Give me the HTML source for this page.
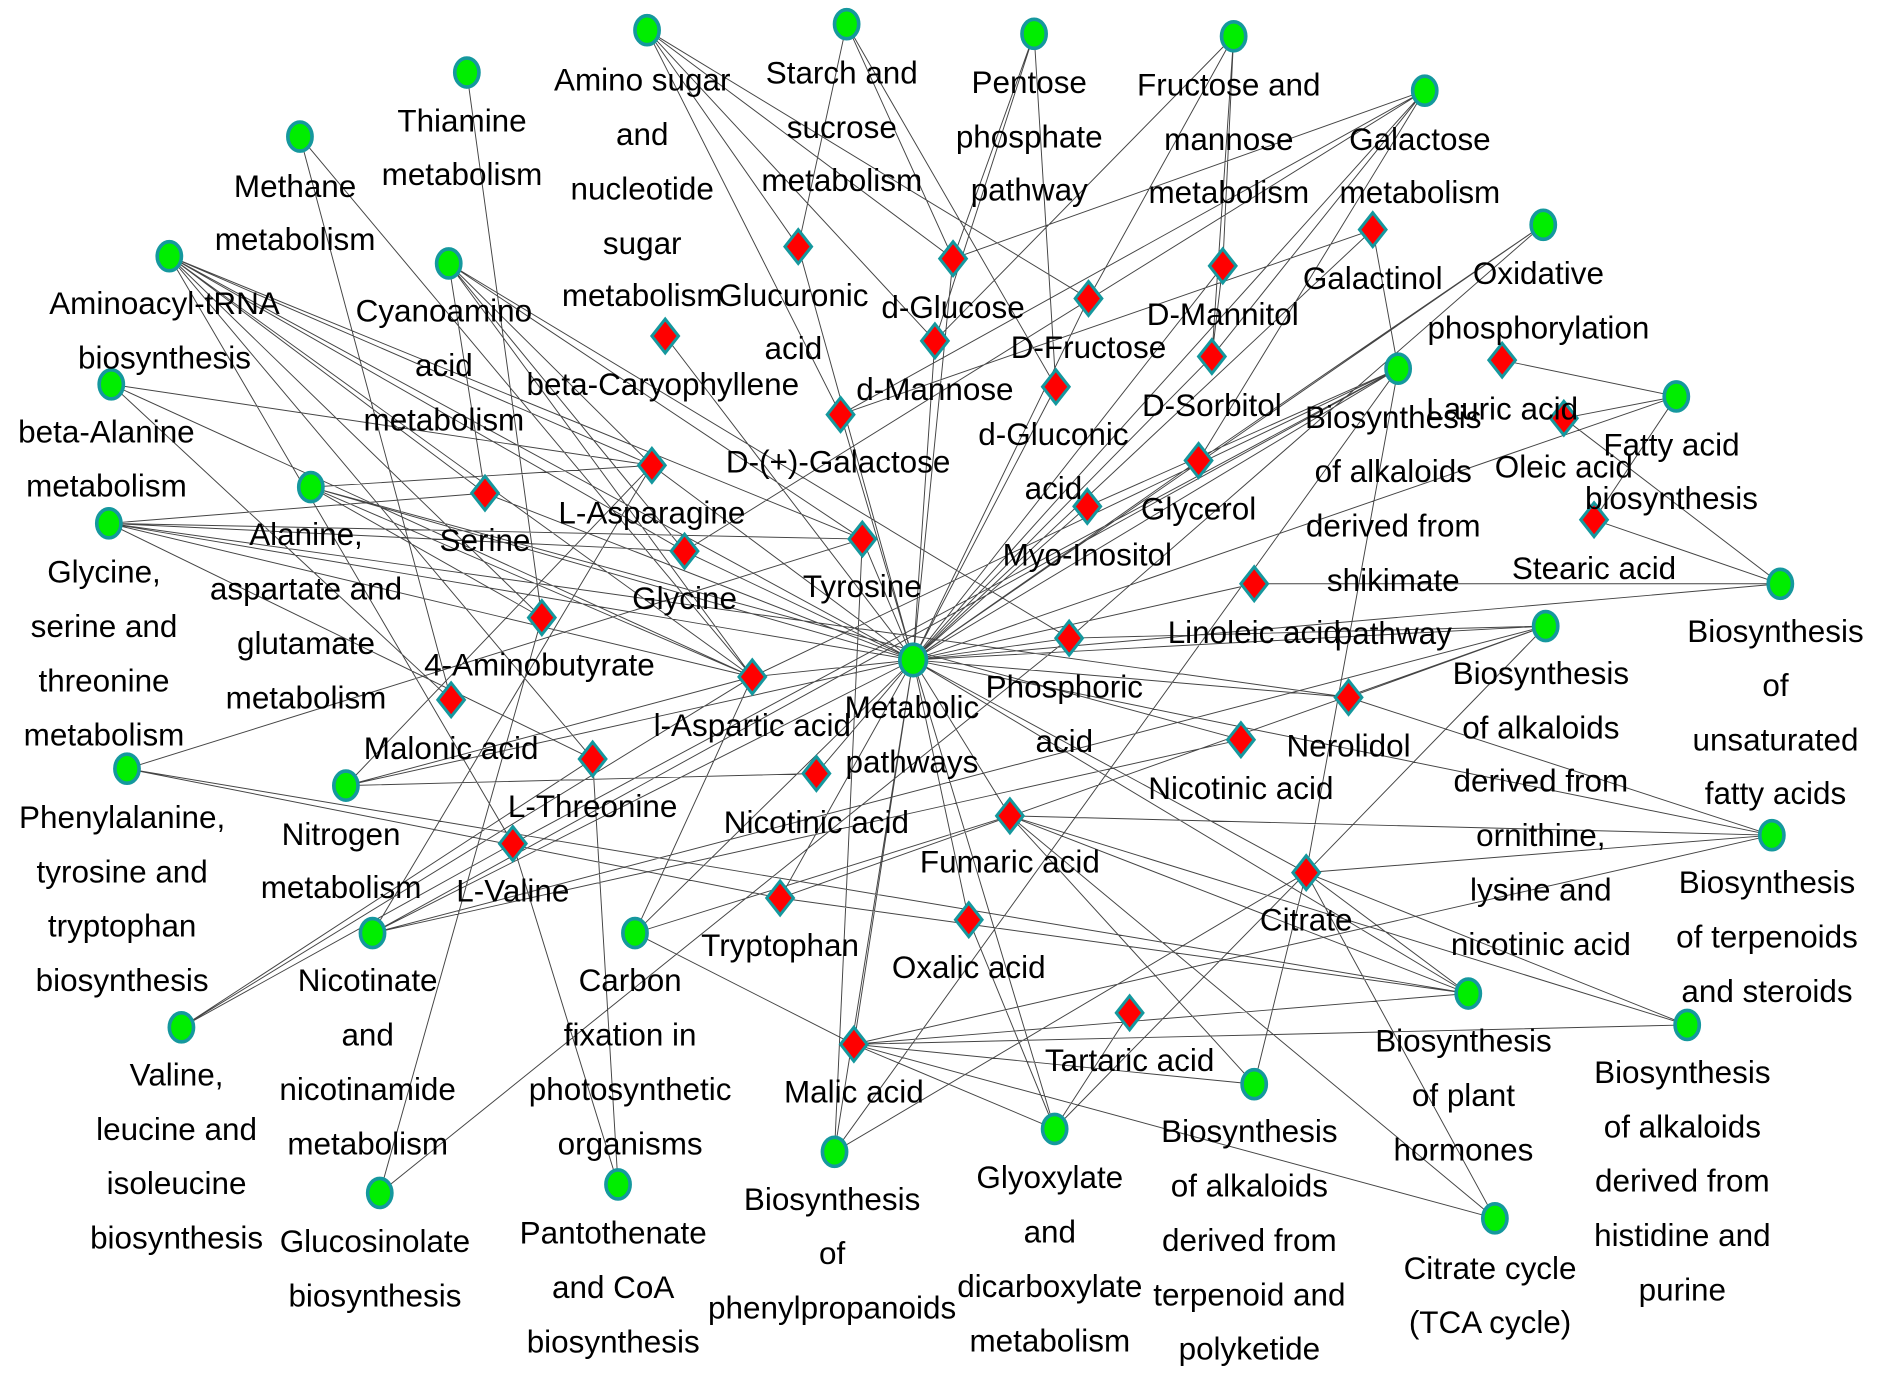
<!DOCTYPE html>
<html><head><meta charset="utf-8"><style>
html,body{margin:0;padding:0;background:#fff;}
svg{display:block;}
text{font-family:"Liberation Sans Narrow","Liberation Sans",sans-serif;font-size:26px;fill:#000;text-anchor:middle;}
</style></head><body>
<svg width="1894" height="1396" viewBox="0 0 1566 1155" preserveAspectRatio="none" xmlns="http://www.w3.org/2000/svg">
<g stroke="#444" stroke-width="0.8" fill="none">
<path d="
M755 546 L788 214 M755 546 L773 282 M755 546 L695 343 M755 546 L713 446 M755 546 L566 456 M755 546 L622 560
M755 546 L884 528 M755 546 L899 419 M755 546 L991 381 M755 546 L1002 295 M755 546 L1011 220 M755 546 L1135 190
M755 546 L835 675 M755 546 L801 761 M755 546 L706 864 M755 546 L675 640 M755 546 L645 743 M755 546 L539 385
M755 546 L401 408 M755 546 L1156 305 M755 546 L1278 518 M755 546 L1115 577 M755 546 L1080 722 M755 546 L873 320
M755 546 L660 204 M755 546 L900 247 M755 546 L550 278 M755 546 L90 433 M755 546 L257 403 M755 546 L1386 328
M755 546 L1465 691 M755 546 L1214 822 M755 546 L872 934 M755 546 L690 953 M755 546 L525 772 M755 546 L308 772
M755 546 L286 650 M755 546 L140 212 M755 546 L1276 186 M755 546 L1178 75 M755 546 L1037 483 M755 546 L1472 483
M535 25 L660 204 M535 25 L788 214 M535 25 L695 343 M535 25 L773 282 M535 25 L900 247
M700 20 L660 204 M700 20 L788 214 M700 20 L873 320
M855 28 L788 214 M855 28 L873 320 M855 28 L773 282
M1020 30 L900 247 M1020 30 L1011 220 M1020 30 L773 282 M1020 30 L1002 295
M1178 75 L788 214 M1178 75 L695 343 M1178 75 L1002 295 M1178 75 L991 381 M1178 75 L566 456
M386 60 L448 511 M248 113 L622 560 M248 113 L373 579
M140 212 L401 408 M140 212 L539 385 M140 212 L566 456 M140 212 L622 560 M140 212 L490 628 M140 212 L424 698 M140 212 L713 446 M140 212 L448 511
M371 218 L401 408 M371 218 L539 385 M371 218 L566 456 M371 218 L713 446 M371 218 L622 560 M371 218 L884 528
M92 318 L622 560 M92 318 L539 385 M92 318 L373 579
M257 403 L539 385 M257 403 L622 560 M257 403 L448 511 M257 403 L1026 612
M90 433 L401 408 M90 433 L566 456 M90 433 L622 560 M90 433 L490 628 M90 433 L713 446 M90 433 L1115 577
M105 636 L713 446 M105 636 L645 743 M105 636 L1214 822
M286 650 L539 385 M286 650 L622 560 M286 650 L675 640
M308 772 L1026 612 M308 772 L1278 518 M308 772 L539 385
M150 850 L424 698 M150 850 L490 628 M150 850 L622 560
M314 987 L448 511 M314 987 L884 528
M525 772 L835 675 M525 772 L706 864 M525 772 L622 560
M511 980 L424 698 M511 980 L490 628
M690 953 L1156 305 M690 953 L713 446 M690 953 L1080 722
M872 934 L801 761 M872 934 L934 838 M872 934 L1080 722 M872 934 L706 864
M1037 897 L1080 722 M1037 897 L706 864 M1037 897 L835 675
M1236 1008 L1080 722 M1236 1008 L706 864 M1236 1008 L835 675
M1214 822 L1080 722 M1214 822 L706 864 M1214 822 L645 743 M1214 822 L835 675
M1395 848 L1080 722 M1395 848 L706 864 M1395 848 L835 675
M1465 691 L1080 722 M1465 691 L835 675 M1465 691 L1115 577 M1465 691 L706 864
M1278 518 L1080 722 M1278 518 L884 528 M1278 518 L1115 577 M1278 518 L645 743
M1472 483 L1037 483 M1472 483 L1293 346 M1472 483 L1318 430
M1386 328 L1293 346 M1386 328 L1242 298 M1386 328 L1318 430
M1276 186 L991 381 M1276 186 L884 528
M1156 305 L1135 190 M1156 305 L1080 722 M1156 305 L424 698 M1156 305 L622 560 M1156 305 L899 419 M1156 305 L308 772
M1135 190 L695 343 M1011 220 L1002 295
"/>
</g>
<g fill="#00ee00" stroke="#15989e" stroke-width="3">
<ellipse cx="535" cy="25" rx="10" ry="12"/><ellipse cx="700" cy="20" rx="10" ry="12"/><ellipse cx="855" cy="28" rx="10" ry="12"/>
<ellipse cx="1020" cy="30" rx="10" ry="12"/><ellipse cx="1178" cy="75" rx="10" ry="12"/><ellipse cx="386" cy="60" rx="10" ry="12"/>
<ellipse cx="248" cy="113" rx="10" ry="12"/><ellipse cx="140" cy="212" rx="10" ry="12"/><ellipse cx="371" cy="218" rx="10" ry="12"/>
<ellipse cx="92" cy="318" rx="10" ry="12"/><ellipse cx="257" cy="403" rx="10" ry="12"/><ellipse cx="90" cy="433" rx="10" ry="12"/>
<ellipse cx="105" cy="636" rx="10" ry="12"/><ellipse cx="286" cy="650" rx="10" ry="12"/><ellipse cx="308" cy="772" rx="10" ry="12"/>
<ellipse cx="150" cy="850" rx="10" ry="12"/><ellipse cx="314" cy="987" rx="10" ry="12"/><ellipse cx="525" cy="772" rx="10" ry="12"/>
<ellipse cx="511" cy="980" rx="10" ry="12"/><ellipse cx="690" cy="953" rx="10" ry="12"/><ellipse cx="872" cy="934" rx="10" ry="12"/>
<ellipse cx="1037" cy="897" rx="10" ry="12"/><ellipse cx="1236" cy="1008" rx="10" ry="12"/><ellipse cx="1214" cy="822" rx="10" ry="12"/>
<ellipse cx="1395" cy="848" rx="10" ry="12"/><ellipse cx="1465" cy="691" rx="10" ry="12"/><ellipse cx="1278" cy="518" rx="10" ry="12"/>
<ellipse cx="1472" cy="483" rx="10" ry="12"/><ellipse cx="1386" cy="328" rx="10" ry="12"/><ellipse cx="1276" cy="186" rx="10" ry="12"/>
<ellipse cx="1156" cy="305" rx="10" ry="12"/><ellipse cx="755" cy="546" rx="11" ry="13"/>
</g>
<g fill="#ff0000" stroke="#15989e" stroke-width="2.5">
<path d="M660 190l11 14l-11 14l-11-14z M788 200l11 14l-11 14l-11-14z M1135 176l11 14l-11 14l-11-14z M1011 206l11 14l-11 14l-11-14z
M900 233l11 14l-11 14l-11-14z M773 268l11 14l-11 14l-11-14z M550 264l11 14l-11 14l-11-14z M1002 281l11 14l-11 14l-11-14z
M1242 284l11 14l-11 14l-11-14z M1293 332l11 14l-11 14l-11-14z M873 306l11 14l-11 14l-11-14z M695 329l11 14l-11 14l-11-14z
M539 371l11 14l-11 14l-11-14z M401 394l11 14l-11 14l-11-14z M991 367l11 14l-11 14l-11-14z M899 405l11 14l-11 14l-11-14z
M1318 416l11 14l-11 14l-11-14z M713 432l11 14l-11 14l-11-14z M566 442l11 14l-11 14l-11-14z M1037 469l11 14l-11 14l-11-14z
M448 497l11 14l-11 14l-11-14z M884 514l11 14l-11 14l-11-14z M622 546l11 14l-11 14l-11-14z M1115 563l11 14l-11 14l-11-14z
M373 565l11 14l-11 14l-11-14z M1026 598l11 14l-11 14l-11-14z M490 614l11 14l-11 14l-11-14z M675 626l11 14l-11 14l-11-14z
M835 661l11 14l-11 14l-11-14z M424 684l11 14l-11 14l-11-14z M1080 708l11 14l-11 14l-11-14z M645 729l11 14l-11 14l-11-14z
M801 747l11 14l-11 14l-11-14z M934 824l11 14l-11 14l-11-14z M706 850l11 14l-11 14l-11-14z"/>
</g>
<g>
<text x="531" y="75">Amino sugar</text><text x="531" y="120">and</text><text x="531" y="165">nucleotide</text><text x="531" y="210">sugar</text><text x="531" y="253">metabolism</text>
<text x="696" y="69">Starch and</text><text x="696" y="114">sucrose</text><text x="696" y="158">metabolism</text>
<text x="851" y="77">Pentose</text><text x="851" y="122">phosphate</text><text x="851" y="166">pathway</text>
<text x="1016" y="79">Fructose and</text><text x="1016" y="124">mannose</text><text x="1016" y="168">metabolism</text>
<text x="1174" y="124">Galactose</text><text x="1174" y="168">metabolism</text>
<text x="382" y="109">Thiamine</text><text x="382" y="153">metabolism</text>
<text x="244" y="163">Methane</text><text x="244" y="207">metabolism</text>
<text x="136" y="260">Aminoacyl-tRNA</text><text x="136" y="305">biosynthesis</text>
<text x="367" y="266">Cyanoamino</text><text x="367" y="311">acid</text><text x="367" y="356">metabolism</text>
<text x="88" y="366">beta-Alanine</text><text x="88" y="411">metabolism</text>
<text x="253" y="451">Alanine,</text><text x="253" y="496">aspartate and</text><text x="253" y="541">glutamate</text><text x="253" y="586">metabolism</text>
<text x="86" y="482">Glycine,</text><text x="86" y="527">serine and</text><text x="86" y="572">threonine</text><text x="86" y="617">metabolism</text>
<text x="101" y="685">Phenylalanine,</text><text x="101" y="730">tyrosine and</text><text x="101" y="775">tryptophan</text><text x="101" y="820">biosynthesis</text>
<text x="282" y="699">Nitrogen</text><text x="282" y="743">metabolism</text>
<text x="304" y="820">Nicotinate</text><text x="304" y="865">and</text><text x="304" y="910">nicotinamide</text><text x="304" y="955">metabolism</text>
<text x="146" y="898">Valine,</text><text x="146" y="943">leucine and</text><text x="146" y="988">isoleucine</text><text x="146" y="1033">biosynthesis</text>
<text x="310" y="1036">Glucosinolate</text><text x="310" y="1081">biosynthesis</text>
<text x="521" y="820">Carbon</text><text x="521" y="865">fixation in</text><text x="521" y="910">photosynthetic</text><text x="521" y="955">organisms</text>
<text x="507" y="1029">Pantothenate</text><text x="507" y="1074">and CoA</text><text x="507" y="1119">biosynthesis</text>
<text x="688" y="1001">Biosynthesis</text><text x="688" y="1046">of</text><text x="688" y="1091">phenylpropanoids</text>
<text x="868" y="983">Glyoxylate</text><text x="868" y="1028">and</text><text x="868" y="1073">dicarboxylate</text><text x="868" y="1118">metabolism</text>
<text x="1033" y="945">Biosynthesis</text><text x="1033" y="990">of alkaloids</text><text x="1033" y="1035">derived from</text><text x="1033" y="1080">terpenoid and</text><text x="1033" y="1125">polyketide</text>
<text x="1232" y="1058">Citrate cycle</text><text x="1232" y="1103">(TCA cycle)</text>
<text x="1210" y="870">Biosynthesis</text><text x="1210" y="915">of plant</text><text x="1210" y="960">hormones</text>
<text x="1391" y="896">Biosynthesis</text><text x="1391" y="941">of alkaloids</text><text x="1391" y="986">derived from</text><text x="1391" y="1031">histidine and</text><text x="1391" y="1076">purine</text>
<text x="1461" y="739">Biosynthesis</text><text x="1461" y="784">of terpenoids</text><text x="1461" y="829">and steroids</text>
<text x="1274" y="566">Biosynthesis</text><text x="1274" y="611">of alkaloids</text><text x="1274" y="655">derived from</text><text x="1274" y="700">ornithine,</text><text x="1274" y="745">lysine and</text><text x="1274" y="790">nicotinic acid</text>
<text x="1468" y="531">Biosynthesis</text><text x="1468" y="576">of</text><text x="1468" y="621">unsaturated</text><text x="1468" y="665">fatty acids</text>
<text x="1382" y="377">Fatty acid</text><text x="1382" y="421">biosynthesis</text>
<text x="1272" y="235">Oxidative</text><text x="1272" y="280">phosphorylation</text>
<text x="1152" y="354">Biosynthesis</text><text x="1152" y="399">of alkaloids</text><text x="1152" y="444">derived from</text><text x="1152" y="489">shikimate</text><text x="1152" y="533">pathway</text>
<text x="754" y="594">Metabolic</text><text x="754" y="639">pathways</text>
<text x="656" y="253">Glucuronic</text><text x="656" y="297">acid</text>
<text x="788" y="263">d-Glucose</text>
<text x="1135" y="239">Galactinol</text>
<text x="1011" y="269">D-Mannitol</text>
<text x="900" y="296">D-Fructose</text>
<text x="773" y="331">d-Mannose</text>
<text x="548" y="327">beta-Caryophyllene</text>
<text x="1002" y="344">D-Sorbitol</text>
<text x="1242" y="347">Lauric acid</text>
<text x="1293" y="395">Oleic acid</text>
<text x="871" y="368">d-Gluconic</text><text x="871" y="413">acid</text>
<text x="693" y="391">D-(+)-Galactose</text>
<text x="539" y="433">L-Asparagine</text>
<text x="401" y="456">Serine</text>
<text x="991" y="430">Glycerol</text>
<text x="899" y="468">Myo-Inositol</text>
<text x="1318" y="479">Stearic acid</text>
<text x="713" y="494">Tyrosine</text>
<text x="566" y="504">Glycine</text>
<text x="1037" y="532">Linoleic acid</text>
<text x="446" y="559">4-Aminobutyrate</text>
<text x="880" y="577">Phosphoric</text><text x="880" y="622">acid</text>
<text x="622" y="609">l-Aspartic acid</text>
<text x="1115" y="626">Nerolidol</text>
<text x="373" y="628">Malonic acid</text>
<text x="1026" y="661">Nicotinic acid</text>
<text x="490" y="676">L-Threonine</text>
<text x="675" y="689">Nicotinic acid</text>
<text x="835" y="722">Fumaric acid</text>
<text x="424" y="746">L-Valine</text>
<text x="1080" y="770">Citrate</text>
<text x="645" y="791">Tryptophan</text>
<text x="801" y="809">Oxalic acid</text>
<text x="934" y="886">Tartaric acid</text>
<text x="706" y="912">Malic acid</text>
</g>
</svg>
</body></html>
